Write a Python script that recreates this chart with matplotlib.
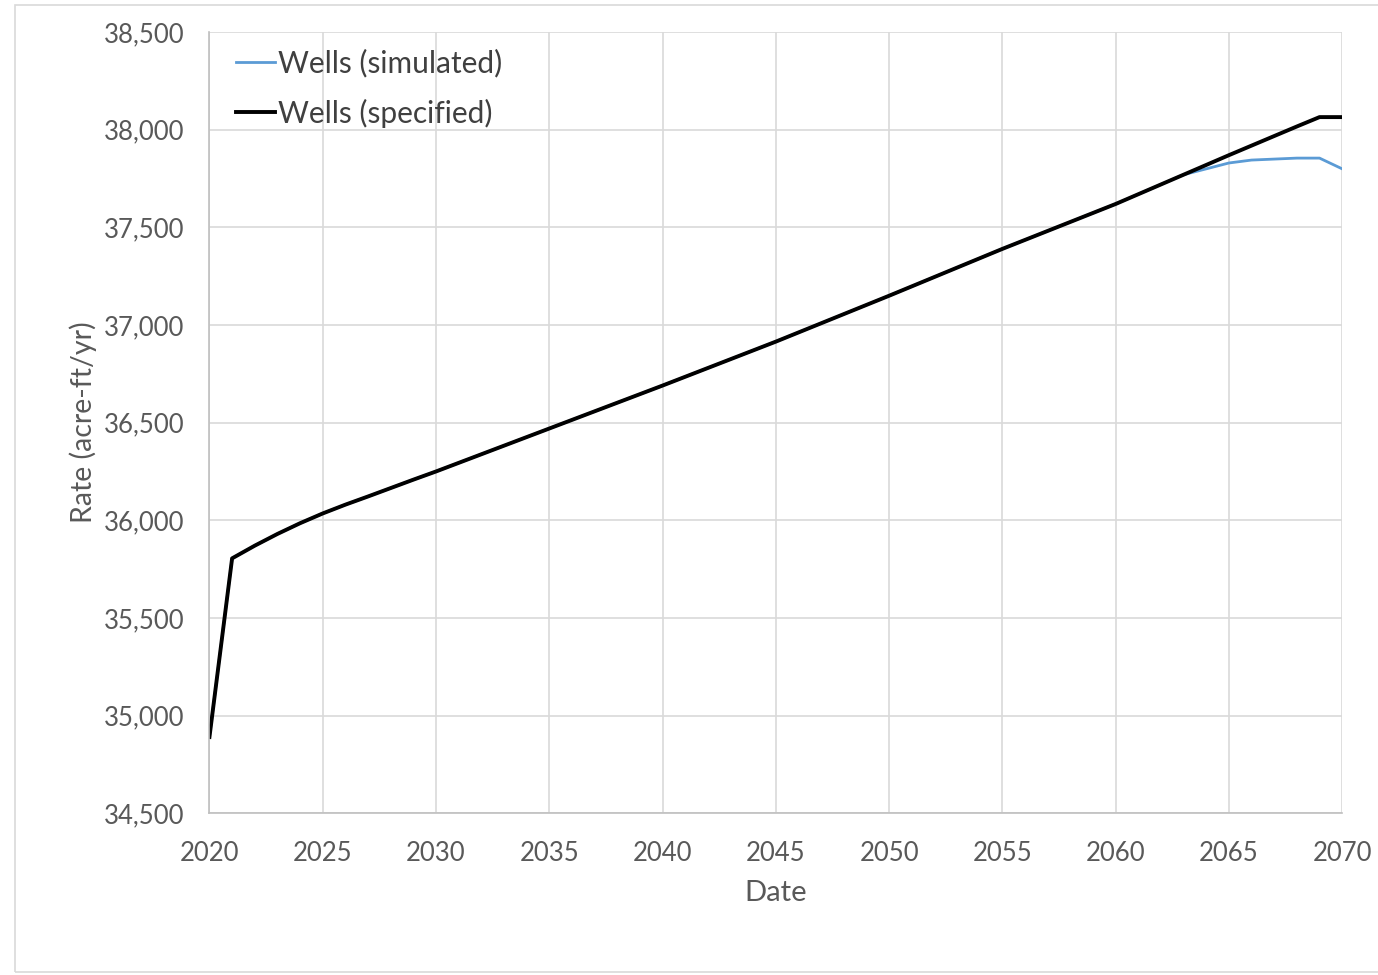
import matplotlib.pyplot as plt
from matplotlib.ticker import FuncFormatter, MultipleLocator
from matplotlib.patches import Rectangle

plt.rcParams['font.family'] = ['Lato', 'DejaVu Sans']

years = list(range(2020, 2071))
specified = [34890, 35805, 35870, 35930, 35985, 36035, 36080, 36122, 36165, 36208,
             36250, 36294, 36338, 36382, 36426, 36470, 36514, 36558, 36602, 36646,
             36690, 36735, 36780, 36825, 36870, 36915, 36962, 37009, 37056, 37103,
             37150, 37198, 37246, 37294, 37342, 37390, 37436, 37482, 37528, 37574,
             37620, 37670, 37720, 37770, 37820, 37870, 37919, 37968, 38017, 38065,
             38065]
simulated = specified[:44] + [37800, 37830, 37845, 37850, 37855, 37855, 37800]

fig = plt.figure(figsize=(13.78, 9.75), dpi=100)
ax = fig.add_axes([0.152, 0.166, 0.822, 0.801])

# faint outer chart border
fig.patches.append(Rectangle((0.011, 0.003), 0.99, 0.992, transform=fig.transFigure,
                             fill=False, edgecolor='#d9d9d9', linewidth=1.2))

ax.plot(years, simulated, color='#5b9bd5', linewidth=2, label='Wells (simulated)')
ax.plot(years, specified, color='black', linewidth=2.8, label='Wells (specified)')

ax.set_xlim(2020, 2070)
ax.set_ylim(34500, 38500)
ax.xaxis.set_major_locator(MultipleLocator(5))
ax.yaxis.set_major_locator(MultipleLocator(500))
ax.yaxis.set_major_formatter(FuncFormatter(lambda v, p: f'{int(v):,}'))

ax.grid(True, color='#d9d9d9', linewidth=1.2)
ax.set_axisbelow(True)
for s in ['top', 'right']:
    ax.spines[s].set_visible(False)
for s in ['left', 'bottom']:
    ax.spines[s].set_color('#bfbfbf')
    ax.spines[s].set_linewidth(1.2)
ax.tick_params(length=0, labelsize=18.5, labelcolor='#595959')
ax.tick_params(axis='x', pad=20)
ax.tick_params(axis='y', pad=18)

ax.set_xlabel('Date', fontsize=21, color='#595959', labelpad=10)
ax.set_ylabel('Rate (acre-ft/yr)', fontsize=20.5, color='#595959', labelpad=5)

leg = ax.legend(loc='upper left', bbox_to_anchor=(0.009, 1.0), frameon=False,
                fontsize=21.5, handlelength=1.3, handletextpad=0.1,
                borderaxespad=0.15, labelspacing=0.72)
for t in leg.get_texts():
    t.set_color('#404040')

fig.savefig('out.png', dpi=100)
